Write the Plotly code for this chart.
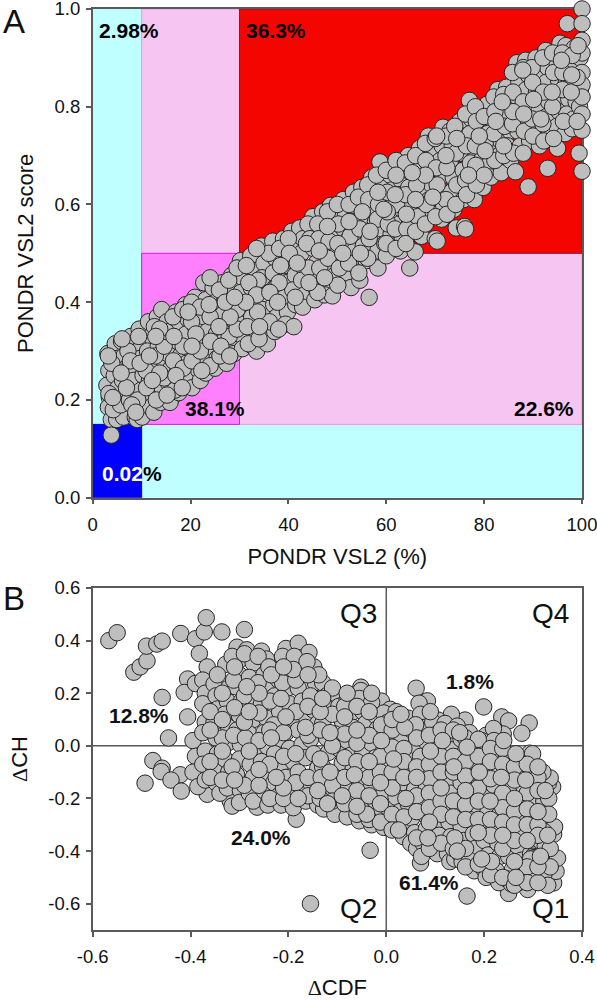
import plotly.graph_objects as go

# Panel A: (PONDR VSL2 %, score)
a_points = [
(3.1,.295),(3.3,.26),(2.9,.23),(3.4,.205),(3.2,.185),(3.8,.16),(3.8,.128),
(4.6,.315),(5.0,.285),(4.4,.25),(5.2,.225),(4.7,.2),(5.3,.175),(4.9,.16),
(5.9,.32),(6.4,.29),(6.8,.265),(6.1,.24),(6.6,.21),(7.0,.18),(6.3,.165),
(7.8,.33),(8.2,.295),(7.6,.27),(8.4,.24),(7.9,.215),(8.3,.19),(8.7,.165),(9.1,.16),
(9.5,.345),(10.0,.31),(9.7,.285),(10.3,.25),(9.9,.22),(10.4,.195),(10.1,.165),
(11.4,.36),(11.9,.33),(11.2,.3),(12.1,.27),(11.6,.24),(12.2,.21),(11.8,.185),(12.5,.175),
(13.2,.37),(13.8,.34),(13.4,.31),(14.1,.285),(13.5,.25),(14.2,.225),(13.9,.195),
(14.1,.385),(15.2,.36),(15.7,.325),(15.3,.295),(16.0,.265),(15.5,.235),(16.2,.205),(15.8,.195),
(17.1,.38),(17.6,.35),(17.3,.32),(17.9,.29),(17.4,.26),(18.0,.23),(17.6,.215),
(19.0,.395),(19.5,.365),(19.1,.335),(19.7,.305),(19.2,.275),(19.8,.25),(20.3,.225),
(20.9,.41),(21.4,.38),(21.0,.35),(21.6,.32),(21.1,.29),(21.7,.26),(22.0,.24),
(22.7,.44),(23.1,.405),(22.8,.37),(23.4,.34),(22.9,.31),(23.5,.28),(23.1,.255),
(24.6,.43),(25.1,.4),(24.7,.37),(25.3,.335),(24.8,.305),(25.4,.285),(25.0,.265),
(26.5,.44),(27.0,.405),(26.6,.375),(27.2,.345),(26.7,.32),(27.3,.295),(27.4,.275),
(28.4,.455),(28.9,.425),(28.5,.39),(29.1,.36),(28.6,.33),(29.2,.305),(28.9,.295),
(30.2,.485),(30.7,.45),(30.3,.42),(30.9,.385),(30.4,.355),(31.0,.325),(30.6,.305),
(32.3,.495),(32.8,.465),(32.4,.43),(33.0,.4),(32.5,.37),(33.1,.34),(32.7,.31),(33.5,.3),
(34.5,.515),(35.0,.48),(34.6,.45),(35.2,.415),(34.7,.385),(35.3,.355),(35.0,.325),(35.7,.315),
(36.8,.525),(37.3,.49),(36.9,.46),(37.5,.43),(37.0,.395),(37.6,.37),(37.2,.34),
(39.0,.53),(39.5,.505),(39.1,.475),(39.7,.44),(39.2,.41),(39.8,.38),(39.4,.355),
(40.7,.545),(41.2,.515),(40.8,.485),(41.4,.455),(40.9,.425),(41.5,.395),(41.1,.35),
(42.3,.552),(43.0,.53),(42.6,.5),(43.2,.47),(42.7,.445),(43.3,.415),(42.9,.39),
(45.0,.575),(45.5,.54),(45.1,.51),(45.7,.48),(45.2,.455),(45.8,.425),(45.4,.405),
(47.0,.585),(47.5,.555),(47.1,.525),(47.7,.495),(47.2,.465),(47.8,.44),(47.4,.415),
(48.6,.598),(49.2,.57),(48.8,.54),(49.4,.51),(48.9,.48),(49.5,.455),(49.0,.413),
(51.2,.61),(51.7,.58),(51.3,.55),(51.9,.525),(51.4,.495),(52.0,.46),(52.8,.43),
(53.3,.625),(53.8,.59),(53.4,.565),(54.0,.535),(53.5,.505),(54.1,.47),(54.6,.445),
(55.0,.635),(55.6,.605),(55.2,.575),(55.8,.545),(55.3,.515),(55.9,.485),(56.5,.41),
(57.0,.655),(57.6,.625),(57.2,.595),(57.8,.565),(57.3,.53),(58.3,.505),(58.3,.47),
(58.7,.687),(59.4,.645),(59.0,.61),(59.6,.58),(59.1,.55),(59.7,.52),(60.0,.495),
(60.8,.66),(61.3,.63),(60.9,.6),(61.5,.57),(61.0,.54),(61.6,.515),
(62.5,.68),(63.0,.65),(62.6,.62),(63.2,.59),(62.7,.56),(63.3,.53),(62.9,.505),
(64.5,.7),(65.0,.665),(64.6,.635),(65.2,.6),(64.7,.57),(65.3,.54),(65.9,.503),(64.8,.47),
(66.8,.715),(67.2,.68),(66.9,.65),(67.4,.62),(67.0,.59),(67.5,.56),(67.2,.535),
(68.6,.74),(69.1,.705),(68.7,.67),(69.3,.64),(68.8,.61),(69.4,.58),(70.0,.53),(70.4,.525),
(71.6,.758),(71.4,.72),(71.0,.69),(71.6,.66),(71.1,.63),(71.7,.6),(71.3,.57),
(73.0,.75),(73.5,.72),(73.1,.69),(73.7,.655),(73.2,.625),(73.8,.59),(74.3,.552),
(75.0,.77),(75.5,.74),(75.1,.705),(75.7,.67),(75.2,.64),(75.8,.61),(76.0,.555),(76.2,.55),
(77.0,.813),(77.4,.775),(77.1,.745),(77.7,.715),(77.2,.685),(77.8,.65),(78.0,.61),
(79.0,.79),(79.5,.76),(79.1,.73),(79.7,.695),(79.2,.665),(79.8,.635),
(80.6,.805),(81.1,.775),(80.7,.745),(81.3,.71),(80.8,.68),(81.4,.656),
(82.8,.835),(83.2,.8),(82.9,.765),(83.4,.73),(83.0,.7),(83.5,.665),
(84.6,.84),(85.1,.81),(84.7,.78),(85.3,.75),(84.8,.72),(85.4,.69),
(86.7,.89),(87.1,.85),(86.8,.82),(87.3,.78),(86.9,.75),(87.4,.72),(86.4,.667),
(88.5,.895),(89.0,.865),(88.6,.835),(89.2,.8),(88.7,.765),(89.3,.73),(89.0,.636),
(90.6,.9),(91.0,.865),(90.7,.83),(91.2,.79),(90.8,.755),(91.3,.72),
(92.6,.915),(93.0,.88),(92.7,.85),(93.2,.81),(92.8,.78),(93.3,.745),(93.0,.674),
(95.5,.93),(94.9,.89),(95.2,.855),(94.8,.82),(95.3,.79),(94.9,.76),(95.0,.715),
(96.7,.925),(97.1,.885),(96.8,.85),(97.3,.815),(96.9,.785),(96.5,.745),
(98.4,.92),(98.7,.885),(98.2,.85),(98.8,.81),(98.3,.775),(98.0,.755),
(97.0,.97),(99.6,.9),(99.7,.835),(99.5,.8),
(100,1.0),(100,.97),(100,.936),(100,.91),(100,.87),(100,.845),(100,.82),(100,.785),(100,.752),(99.4,.705),(100,.668),
]
# Panel A: points filling the gaps in the cloud
a_fill = [
(36.0,.50),(38.2,.51),(40.0,.53),(40.2,.5),(38.1,.44),(36.1,.36),(38.0,.345),(44.0,.56),(44.4,.53),(44.1,.47),
(46.0,.56),(46.2,.53),(46.4,.47),(46.0,.42),(48.0,.585),(48.3,.525),(48.1,.49),(50.0,.6),(50.2,.56),(50.4,.47),
(50.1,.435),(52.4,.6),(52.6,.535),(52.3,.48),(54.3,.615),(54.6,.55),(54.4,.46),(56.2,.64),(56.4,.61),(56.5,.53),
(56.2,.49),(58.0,.66),(58.4,.6),(58.2,.57),(60.0,.67),(60.2,.625),(60.4,.56),(60.0,.52),(62.0,.69),(62.1,.6),
(61.8,.55),(62.0,.51),(63.9,.685),(64.0,.62),(64.2,.55),(64.0,.52),(66.0,.7),(66.2,.64),(66.4,.575),(66.0,.545),
(68.0,.725),(68.1,.69),(68.2,.6),(68.0,.56),(70.0,.735),(70.2,.675),(70.4,.64),(70.1,.575),(72.3,.74),(72.4,.675),
(72.2,.61),(72.4,.58),(74.0,.76),(74.2,.705),(74.4,.64),(74.2,.6),(76.2,.785),(76.4,.72),(76.2,.65),(76.4,.62),
(78.2,.8),(78.4,.77),(78.3,.68),(78.4,.64),(80.0,.78),(80.2,.725),(80.0,.66),(82.0,.82),(82.2,.79),(82.0,.745),
(82.2,.69),(84.0,.825),(84.2,.76),(84.0,.7),(85.8,.87),(85.9,.83),(85.8,.765),(86.0,.705),(88.0,.88),(88.0,.81),
(88.2,.75),(88.0,.705),(89.8,.88),(89.9,.85),(89.8,.775),(90.0,.74),(92.0,.9),(92.1,.83),(92.0,.765),(92.2,.73),
(94.0,.91),(94.2,.87),(94.0,.8),(94.2,.735),(96.0,.91),(96.1,.87),(96.0,.835),(96.2,.77),(98.0,.905),(97.8,.83),
(99.0,.86),(99.2,.925),(99.0,.77),(3.9,.275),(4.2,.18),(5.7,.19),(7.2,.3),(7.5,.2),(9.2,.2),(10.9,.26),
(11.0,.225),(12.6,.35),(12.8,.29),(13.0,.2),(14.6,.31),(14.6,.245),(15.0,.34),(16.4,.37),(16.5,.28),(16.8,.22),
(18.4,.385),(18.5,.31),(18.5,.265),(20.2,.4),(20.2,.36),(20.3,.28),(22.0,.39),(22.0,.3),(24.0,.45),(24.1,.32),
(24.0,.27),(25.9,.425),(26.0,.29),(27.8,.445),(27.9,.33),(29.5,.47),(29.5,.385),(29.5,.345),(31.4,.475),(31.6,.35),
(33.5,.51),(33.8,.445),(33.7,.38),(31.8,.315),(34.0,.325),
]
# Panel A: points lying on top of the main cloud
a_top = [
(3.2,.29),(6.0,.325),(3.3,.213),(8.0,.19),(7.7,.28),(6.9,.225),(9.7,.275),(11.6,.29),(13.7,.345),(16.6,.33),
(21.1,.335),(24.0,.37),(17.0,.25),(13.7,.255),(12.2,.24),(15.2,.21),(18.3,.225),(22.3,.26),(26.2,.31),(28.1,.37),
(19.5,.38),(23.8,.395),(27.1,.4),(31.9,.44),(33.5,.415),(36.2,.42),(38.4,.475),(41.8,.48),(43.7,.52),(44.2,.44),
(46.3,.505),(48.0,.555),(50.1,.52),(52.4,.565),(54.7,.5),(56.7,.545),(58.3,.625),(60.2,.585),(61.8,.62),(64.1,.58),
(66.0,.61),(68.0,.66),(70.3,.74),(72.2,.7),(74.4,.735),(76.8,.66),(78.2,.72),(80.2,.71),(82.4,.77),(84.0,.72),
(85.9,.79),(87.9,.875),(90.1,.815),(91.6,.775),(93.9,.83),(95.8,.895),(97.9,.865),(88.1,.785),(83.7,.81),(79.0,.74),
(69.5,.615),(65.3,.665),(62.0,.66),(59.5,.59),(55.1,.585),(51.1,.5),(47.4,.45),(41.4,.41),(37.8,.4),(34.1,.35),
(31.3,.4),(29.0,.41),(25.8,.35),(20.3,.31),(28.0,.29),(12.9,.33),(9.4,.33),(5.8,.255),(4.1,.205),(8.8,.175),
]

# Panel B: (delta CDF, delta CH)
b_points = [
(-.567,.40),(-.55,.43),(-.516,.28),(-.503,.30),(-.489,.323),(-.49,.379),(-.469,.387),(-.458,.398),
(-.458,.184),(-.445,.03),(-.42,.427),(-.39,.407),(-.372,.433),(-.368,.487),(-.382,.351),(-.336,.433),
(-.29,.442),(-.366,.30),(-.406,.254),(-.413,.203),(-.39,.237),(-.406,.11),(-.477,-.056),(-.458,-.085),
(-.46,-.098),(-.493,-.142),(-.421,-.11),(-.44,-.13),(-.419,-.172),(-.366,-.184),(-.319,-.209),(-.315,-.229),
(-.264,-.233),(-.184,-.279),(-.155,-.60),(-.033,-.397),(.165,-.571),(.07,-.445),(.25,-.561),(.289,-.546),
(.342,-.521),(.347,-.477),(.35,-.427),(.342,-.336),(.344,-.308),(.34,-.156),(.331,-.142),(.335,-.122),
(.293,-.028),(.299,-.03),(.292,.087),(.277,.048),(.199,.148),(.236,.11),(.25,.095),(.061,.219),(.084,.171),(.067,.162),
(.161,.098),(.133,.12),(.106,.098),(-.052,.223),(-.052,.21),(-.01,.17),(.008,.139),(.239,.045),(.204,.04),(.219,.066),
(-.395,.02),(-.39,-.04),(-.395,-.1),(-.385,-.155),
(-.375,.25),(-.37,.2),(-.375,.16),(-.37,.09),(-.375,.05),(-.37,-.02),(-.375,-.07),(-.37,-.13),
(-.352,.235),(-.348,.19),(-.345,.14),(-.352,.09),(-.348,.03),(-.345,-.03),(-.352,-.09),(-.348,-.14),(-.34,-.18),
(-.328,.31),(-.322,.22),(-.325,.17),(-.33,.12),(-.322,.07),(-.325,.01),(-.33,-.05),(-.322,-.1),(-.325,-.16),
(-.305,.375),(-.298,.33),(-.3,.27),(-.308,.225),(-.296,.17),(-.3,.115),(-.305,.06),(-.298,.005),(-.3,-.05),(-.306,-.11),(-.298,-.17),(-.3,-.215),
(-.285,.365),(-.272,.315),(-.28,.26),(-.27,.21),(-.278,.155),(-.272,.1),(-.28,.045),(-.27,-.01),(-.278,-.07),(-.272,-.12),(-.28,-.18),(-.272,-.21),
(-.255,.36),(-.245,.33),(-.25,.27),(-.242,.215),(-.255,.16),(-.245,.105),(-.25,.05),(-.242,-.005),(-.255,-.06),(-.245,-.115),(-.25,-.17),(-.242,-.225),
(-.232,.29),(-.22,.25),(-.228,.19),(-.218,.13),(-.23,.08),(-.22,.025),(-.228,-.03),(-.218,-.085),(-.23,-.14),(-.22,-.19),(-.215,-.225),
(-.205,.37),(-.2,.325),(-.195,.27),(-.205,.215),(-.198,.16),(-.19,.1),(-.205,.05),(-.198,-.01),(-.19,-.06),(-.205,-.12),(-.198,-.175),(-.19,-.235),
(-.18,.39),(-.172,.335),(-.17,.28),(-.18,.22),(-.172,.17),(-.165,.115),(-.18,.06),(-.172,.005),(-.165,-.045),(-.18,-.1),(-.172,-.16),(-.165,-.21),
(-.158,.355),(-.148,.3),(-.145,.24),(-.155,.19),(-.148,.135),(-.14,.085),(-.155,.025),(-.148,-.03),(-.14,-.085),(-.155,-.14),(-.148,-.19),(-.14,-.225),
(-.13,.24),(-.122,.19),(-.118,.14),(-.13,.085),(-.122,.03),(-.118,-.025),(-.13,-.08),(-.122,-.135),(-.118,-.19),(-.128,-.24),
(-.105,.2),(-.097,.15),(-.09,.095),(-.105,.045),(-.097,-.01),(-.09,-.065),(-.105,-.12),(-.097,-.175),(-.09,-.225),(-.105,-.26),
(-.08,.175),(-.072,.125),(-.068,.07),(-.08,.02),(-.072,-.035),(-.068,-.09),(-.08,-.145),(-.072,-.2),(-.068,-.25),(-.08,-.27),
(-.055,.18),(-.048,.13),(-.042,.085),(-.055,.03),(-.048,-.025),(-.042,-.08),(-.055,-.135),(-.048,-.19),(-.042,-.24),(-.055,-.285),
(-.03,.165),(-.022,.115),(-.018,.065),(-.03,.01),(-.022,-.045),(-.018,-.1),(-.03,-.155),(-.022,-.21),(-.018,-.265),(-.03,-.3),
(-.005,.125),(.003,.09),(.008,.04),(-.005,-.015),(.003,-.07),(.008,-.125),(-.005,-.18),(.003,-.235),(.008,-.285),(-.005,-.31),
(.02,.13),(.028,.08),(.032,.025),(.02,-.03),(.028,-.085),(.032,-.14),(.02,-.195),(.028,-.25),(.032,-.3),(.035,-.345),
(.045,.105),(.052,.06),(.058,.0),(.045,-.055),(.052,-.11),(.058,-.165),(.045,-.22),(.052,-.275),(.058,-.33),(.05,-.37),(.062,-.39),
(.07,.12),(.078,.07),(.082,.015),(.07,-.04),(.078,-.095),(.082,-.15),(.07,-.205),(.078,-.26),(.082,-.315),(.075,-.37),(.072,-.42),
(.095,.09),(.103,.045),(.108,-.01),(.095,-.065),(.103,-.12),(.108,-.175),(.095,-.23),(.103,-.285),(.108,-.34),(.1,-.39),(.104,-.41),
(.12,.085),(.128,.04),(.132,-.015),(.12,-.07),(.128,-.125),(.132,-.18),(.12,-.235),(.128,-.29),(.132,-.345),(.125,-.41),(.13,-.44),(.14,-.43),
(.145,.075),(.153,.025),(.158,-.03),(.145,-.085),(.153,-.14),(.158,-.195),(.145,-.25),(.153,-.305),(.158,-.36),(.15,-.41),(.155,-.44),
(.17,.05),(.178,-.005),(.182,-.06),(.17,-.115),(.178,-.17),(.182,-.225),(.17,-.28),(.178,-.335),(.182,-.39),(.17,-.435),(.18,-.475),
(.195,.02),(.2,-.03),(.208,-.085),(.195,-.14),(.2,-.195),(.208,-.25),(.195,-.305),(.2,-.36),(.208,-.415),(.2,-.47),(.204,-.5),
(.22,.02),(.228,-.04),(.232,-.095),(.22,-.15),(.228,-.205),(.232,-.26),(.22,-.315),(.228,-.37),(.232,-.42),(.225,-.475),(.23,-.52),
(.245,-.03),(.25,-.09),(.258,-.15),(.245,-.2),(.25,-.26),(.258,-.31),(.245,-.365),(.25,-.42),(.258,-.47),(.245,-.505),(.256,-.525),
(.268,-.05),(.276,-.105),(.282,-.16),(.268,-.215),(.276,-.27),(.282,-.325),(.268,-.38),(.276,-.435),(.282,-.49),(.27,-.52),
(.295,-.09),(.3,-.14),(.306,-.195),(.295,-.25),(.3,-.305),(.306,-.36),(.295,-.41),(.3,-.465),(.306,-.51),
(.32,-.1),(.315,-.16),(.322,-.21),(.315,-.27),(.322,-.325),(.325,-.38),(.318,-.44),(.322,-.49),(.33,-.53),
(.3,-.42),(.302,-.425),(.304,-.43),(.306,-.435),(.303,-.432),(.295,-.43),
]
# Panel B: points filling the gaps in the cloud
b_fill = [
(-.36,.13),(-.36,-.06),(-.36,-.12),(-.335,.2),(-.335,.1),(-.335,.03),(-.335,-.13),(-.315,.34),(-.312,.25),(-.312,.04),
(-.315,-.08),(-.29,.35),(-.29,.19),(-.288,.03),(-.29,-.15),(-.262,.34),(-.262,.24),(-.26,.125),(-.26,.02),(-.26,-.15),
(-.24,.3),(-.238,.17),(-.238,.06),(-.238,-.07),(-.238,-.2),(-.212,.34),(-.212,.24),(-.21,.05),(-.21,-.04),(-.21,-.2),
(-.188,.34),(-.185,.25),(-.185,.13),(-.185,-.14),(-.162,.32),(-.16,.15),(-.16,.04),(-.16,-.12),(-.16,-.19),(-.138,.27),
(-.135,.06),(-.135,-.05),(-.133,-.12),(-.135,-.2),(-.11,.22),(-.11,.12),(-.11,.0),(-.11,-.15),(-.11,-.21),(-.085,.15),
(-.085,.045),(-.085,-.045),(-.085,-.12),(-.085,-.22),(-.06,.15),(-.06,.01),(-.06,-.06),(-.06,-.17),(-.06,-.26),(-.035,.13),
(-.035,.04),(-.035,-.12),(-.035,-.19),(-.035,-.28),(-.01,.08),(-.012,-.04),(-.012,-.1),(-.012,-.22),(-.012,-.29),(.012,.06),
(.012,-.005),(.012,-.1),(.012,-.16),(.012,-.26),(.012,-.32),(.036,-.01),(.036,-.06),(.036,-.12),(.036,-.27),(.06,.08),
(.062,.03),(.062,-.08),(.062,-.19),(.062,-.25),(.062,-.35),(.088,.04),(.088,-.07),(.088,-.125),(.088,-.18),(.088,-.235),
(.088,-.39),(.112,.06),(.112,-.04),(.112,-.1),(.112,-.21),(.112,-.26),(.112,-.37),(.137,.06),(.137,-.04),(.137,-.1),
(.137,-.21),(.137,-.27),(.137,-.39),(.162,.03),(.162,-.06),(.162,-.115),(.162,-.225),(.162,-.28),(.162,-.39),(.162,-.46),
(.188,.025),(.188,-.04),(.188,-.16),(.188,-.21),(.188,-.28),(.188,-.45),(.213,-.01),(.213,-.06),(.213,-.125),(.213,-.28),
(.213,-.34),(.213,-.49),(.238,-.01),(.238,-.07),(.238,-.18),(.238,-.235),(.238,-.29),(.238,-.39),(.238,-.5),(.262,-.08),
(.262,-.13),(.262,-.25),(.262,-.3),(.262,-.36),(.262,-.53),(.288,-.07),(.288,-.18),(.288,-.24),(.288,-.3),(.288,-.46),
(.288,-.52),(.31,-.12),(.31,-.17),(.31,-.3),(.31,-.34),(.31,-.52),(.332,-.2),(.332,-.26),(.335,-.39),(.335,-.46),
]
# Panel B: points lying on top of the main cloud
b_top = [
(-.36,.06),(-.31,.145),(-.29,.09),(-.335,-.02),(-.31,-.13),(-.26,.2),(-.26,-.09),(-.235,.03),(-.21,-.16),(-.215,.18),
(-.19,.29),(-.165,.07),(-.185,-.03),(-.135,.13),(-.14,-.17),(-.115,.05),(-.115,-.1),(-.085,.11),(-.09,-.19),(-.06,.06),
(-.065,-.11),(-.035,-.06),(-.04,-.26),(-.01,.02),(-.012,-.14),(.015,-.05),(.012,.1),(.04,-.2),(.038,.07),(.062,-.12),
(.09,-.02),(.088,-.29),(.115,.02),(.112,-.16),(.138,-.08),(.14,-.35),(.162,-.17),(.165,-.005),(.19,-.1),(.188,-.33),
(.212,-.21),(.215,-.44),(.235,-.12),(.238,-.34),(.262,-.2),(.262,-.44),(.285,-.13),(.288,-.36),(.31,-.25),(.31,-.46),
(-.345,.27),(-.31,.3),(-.285,.225),(-.235,.27),(-.21,.3),(-.16,.27),(-.28,.13),(-.205,.11),(-.13,.18),(-.08,.2),
(-.03,.2),(.03,.12),(.09,.13),(.15,.05),(.24,.02),(-.28,-.02),(-.225,-.12),(-.18,-.2),(-.12,-.22),(-.06,-.23),
(.025,-.32),(.085,-.35),(.145,-.4),(.195,-.43),(.265,-.5),(.315,-.42),(.33,-.34),(.325,-.17),(.31,-.08),(.265,-.03),
]

# Panel A shaded regions: x0, x1, y0, y1
a_regions = [
    (0, 10, .15, 1, "#BFFFFF", "#BFFFFF"),
    (10, 100, 0, .15, "#BFFFFF", "#BFFFFF"),
    (10, 100, .15, 1, "#F7C5F2", "#F090EE"),
    (30, 100, .5, 1, "#F50500", "#9A1030"),
    (10, 30, .15, .5, "#FF80FF", "#EE10EE"),
    (0, 10, 0, .15, "#0000FF", "#0000C0"),
]
a_labels = [
    (.85, .957, "2.98%"), (31.0, .957, "36.3%"),
    (18.4, .183, "38.1%"), (85.7, .183, "22.6%"),
    (1.4, .05, "<span style='color:white'>0.02</span>%"),
]
b_labels = [
    (-.571, .115, "12.8%"), (-.322, -.35, "24.0%"), (.117, .245, "1.8%"), (.022, -.52, "61.4%"),
]
b_quadrants = [(-.014, .504, "Q3"), (.378, .504, "Q4"), (-.014, -.618, "Q2"), (.378, -.618, "Q1")]
a_xticks = [0, 20, 40, 60, 80, 100]
a_yticks = [0.0, 0.2, 0.4, 0.6, 0.8, 1.0]
b_xticks = [-0.6, -0.4, -0.2, 0.0, 0.2, 0.4]
b_yticks = [-0.6, -0.4, -0.2, 0.0, 0.2, 0.4, 0.6]

W, H = 597, 1000
FONT = "Liberation Sans"
AXC = "#5a5a5a"
fig = go.Figure()
marker = dict(size=16.5, color="#BEBEBE", line=dict(color="#262626", width=1))
a_all = a_points + a_fill + a_top
b_all = b_points + b_fill + b_top
fig.add_trace(go.Scatter(x=[p[0] for p in a_all], y=[p[1] for p in a_all], mode="markers",
                         marker=marker, xaxis="x", yaxis="y", cliponaxis=False, showlegend=False))
fig.add_trace(go.Scatter(x=[p[0] for p in b_all], y=[p[1] for p in b_all], mode="markers",
                         marker=marker, xaxis="x2", yaxis="y2", cliponaxis=False, showlegend=False))

shapes = [dict(type="rect", xref="x", yref="y", x0=r[0], x1=r[1], y0=r[2], y1=r[3],
               fillcolor=r[4], line=dict(color=r[5], width=1), layer="below") for r in a_regions]
shapes += [
    dict(type="line", xref="x2", yref="y2", x0=0, x1=0, y0=-.7, y1=.6, line=dict(color=AXC, width=1.5), layer="below"),
    dict(type="line", xref="x2", yref="y2", x0=-.6, x1=.4, y0=0, y1=0, line=dict(color=AXC, width=1.5), layer="below"),
]
ann = []
for x, y, t in a_labels:
    ann.append(dict(x=x, y=y, xref="x", yref="y", text=f"<b>{t}</b>", showarrow=False, xanchor="left",
                    font=dict(size=21, color="black", family=FONT)))
for x, y, t in b_labels:
    ann.append(dict(x=x, y=y, xref="x2", yref="y2", text=f"<b>{t}</b>", showarrow=False, xanchor="left",
                    font=dict(size=21, color="#111", family=FONT)))
for x, y, t in b_quadrants:
    ann.append(dict(x=x, y=y, xref="x2", yref="y2", text=t, showarrow=False, xanchor="right",
                    font=dict(size=28, color="#111", family=FONT)))
ann.append(dict(x=0, y=1.0, xref="paper", yref="paper", text="A", showarrow=False, xanchor="left", yanchor="top",
                xshift=1, yshift=-1, font=dict(size=33, color="#111", family=FONT)))
ann.append(dict(x=0, y=0.4205, xref="paper", yref="paper", text="B", showarrow=False, xanchor="left", yanchor="top",
                xshift=1, yshift=2, font=dict(size=33, color="#111", family=FONT)))

def axis(vals, fmt, **kw):
    return dict(showgrid=False, zeroline=False, showline=True, mirror=True, linecolor=AXC, linewidth=1.5,
                ticks="outside", ticklen=5, tickwidth=1.5, tickcolor=AXC, layer="below traces", automargin=False,
                ticklabeloverflow="allow",
                tickvals=vals, ticktext=[fmt.format(v) for v in vals],
                tickfont=dict(size=18.5, color="#111", family=FONT),
                title_font=dict(size=22, color="#111", family=FONT), **kw)

dx = [92.7 / W, 582 / W]
delta = "<span style='font-family:Liberation Serif'>Δ</span>"
fig.update_layout(
    template=None,
    width=W, height=H, margin=dict(l=0, r=0, t=0, b=0, autoexpand=False), paper_bgcolor="white", plot_bgcolor="white",
    shapes=shapes, annotations=ann, showlegend=False,
    xaxis=axis(a_xticks, "{:d}", domain=dx, range=[0, 100], anchor="y", ticklabelstandoff=4,
               title=dict(text="PONDR VSL2 (%)", standoff=15)),
    yaxis=axis(a_yticks, "{:.1f}", domain=[1 - 497.7 / H, 1 - 9 / H], range=[0, 1], anchor="x", ticklabelstandoff=2,
               title=dict(text="PONDR VSL2 score", standoff=15)),
    xaxis2=axis(b_xticks, "{:.1f}", domain=dx, range=[-.6, .4], anchor="y2", ticklabelstandoff=4,
                title=dict(text=delta + "CDF", standoff=19)),
    yaxis2=axis(b_yticks, "{:.1f}", domain=[1 - 930 / H, 1 - 588 / H], range=[-.7, .6], anchor="x2", ticklabelstandoff=2,
                title=dict(text=delta + "CH", standoff=15)),
)
fig.write_html("out.html", post_script="document.body.style.margin='0';document.documentElement.style.overflow='hidden';",
               config={"displayModeBar": False})
